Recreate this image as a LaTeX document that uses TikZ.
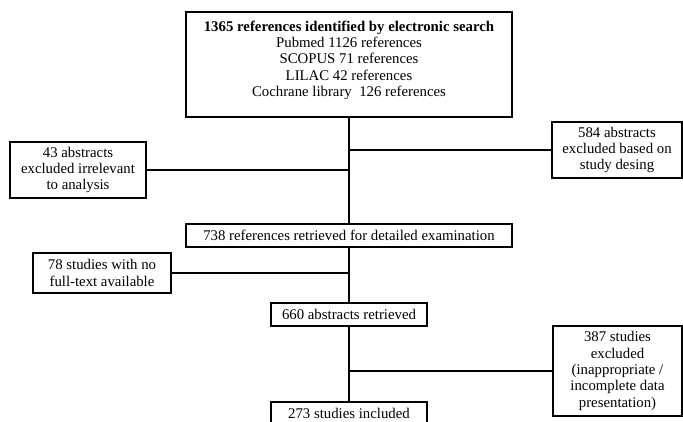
\documentclass[tikz,border=0pt]{standalone}
\usepackage{fontspec}
\setmainfont{Liberation Serif}
\begin{document}
\begin{tikzpicture}[x=1pt,y=-1pt,
  box/.style={draw, line width=1.8pt, align=center, inner sep=0pt,
    font=\fontsize{14.8}{16.3}\selectfont},
  link/.style={line width=1.8pt}]
\useasboundingbox (0,0) rectangle (683,422);
\clip (0,0) rectangle (683,422);
\node[box, minimum width=326pt, minimum height=105pt] (top) at (349,64.5)
  {\textbf{1365 references identified by electronic search}\\
   Pubmed 1126 references\\ SCOPUS 71 references\\ LILAC 42 references\\
   Cochrane library\ \ 126 references\\[-9.3pt]\strut};
\node[box, minimum width=136pt, minimum height=56pt] (ex43) at (78,170)
  {43 abstracts\\ excluded irrelevant\\ to analysis};
\node[box, minimum width=130pt, minimum height=56pt] (ex584) at (617,150)
  {584 abstracts\\ excluded based on\\ study desing};
\node[box, minimum width=326pt, minimum height=23pt] (ret738) at (349,235.5)
  {738 references retrieved for detailed examination};
\node[box, minimum width=138pt, minimum height=40pt] (ex78) at (102,273)
  {78 studies with no\\ full-text available};
\node[box, minimum width=156pt, minimum height=23pt] (abs660) at (349,314.5)
  {660 abstracts retrieved};
\node[box, minimum width=129pt, minimum height=90pt] (ex387) at (617.5,371)
  {387 studies\\ excluded\\ (inappropriate /\\ incomplete data\\ presentation)};
\node[box, minimum width=156pt, minimum height=23pt] (inc273) at (349,413.5)
  {273 studies included};
\draw[link] (top.south) -- (ret738.north);
\draw[link] (ex584.west) -- (ex584.west -| top.south);
\draw[link] (ex43.east) -- (ex43.east -| top.south);
\draw[link] (ret738.south) -- (abs660.north);
\draw[link] (ex78.east) -- (ex78.east -| ret738.south);
\draw[link] (abs660.south) -- (inc273.north);
\draw[link] (ex387.west) -- (ex387.west -| abs660.south);
\end{tikzpicture}
\end{document}
